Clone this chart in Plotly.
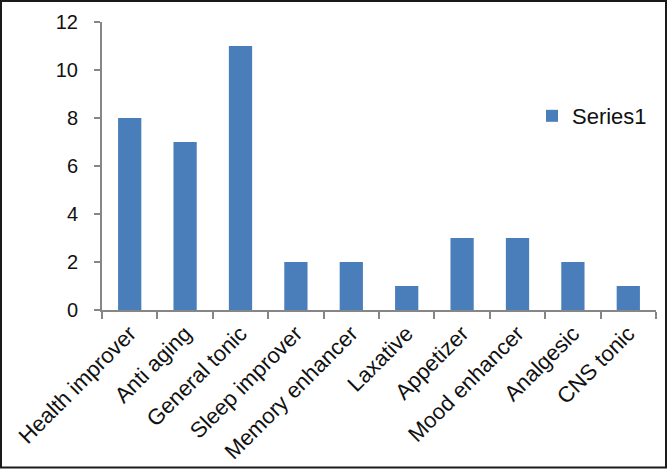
import plotly.graph_objects as go

categories = ["Health improver", "Anti aging", "General tonic", "Sleep improver",
              "Memory enhancer", "Laxative", "Appetizer", "Mood enhancer",
              "Analgesic", "CNS tonic"]
values = [8, 7, 11, 2, 2, 1, 3, 3, 2, 1]
series_name = "Series1"
y_ticks = [0, 2, 4, 6, 8, 10, 12]

W, H = 667, 469
L, R, T, B = 102, 11, 22, 159
pw, ph = W - L - R, H - T - B
FONT = "Liberation Sans, Arial, sans-serif"

fig = go.Figure(go.Bar(x=categories, y=values, name=series_name,
                       marker=dict(color="#4a7ebb", line=dict(width=0))))

fig.update_layout(
    width=W, height=H,
    margin=dict(l=L, r=R, t=T, b=B),
    paper_bgcolor="white", plot_bgcolor="white",
    bargap=0.58,
    showlegend=True,
    legend=dict(x=(532 - L) / pw, y=(310 - 116) / ph, yanchor="middle", xanchor="left",
                font=dict(family=FONT, size=22, color="#111111"),
                bgcolor="rgba(0,0,0,0)", itemwidth=30),
    font=dict(family=FONT, size=20, color="#111111"),
)
fig.update_xaxes(
    tickangle=-45, tickson="boundaries", ticks="outside", ticklen=7,
    tickcolor="#868686", tickwidth=2,
    showline=True, linecolor="#868686", linewidth=2,
    showgrid=False, tickfont=dict(size=22), automargin=False,
)
fig.update_yaxes(
    range=[0, 12], tickvals=y_ticks, ticks="outside", ticklen=6,
    tickcolor="#868686", tickwidth=2,
    showline=True, linecolor="#868686", linewidth=2,
    showgrid=False, zeroline=False, tickfont=dict(size=20), automargin=False,
    ticklabelstandoff=12,
)
fig.add_shape(type="rect", xref="paper", yref="paper",
              x0=(1 - L) / pw, x1=(W - 1 - L) / pw,
              y0=(H - B - (H - 1.5)) / ph, y1=(H - B - 1) / ph,
              line=dict(color="#1a1a1a", width=2))
fig.write_html("out.html", config={"displayModeBar": False},
               post_script="document.body.style.margin='0';")
